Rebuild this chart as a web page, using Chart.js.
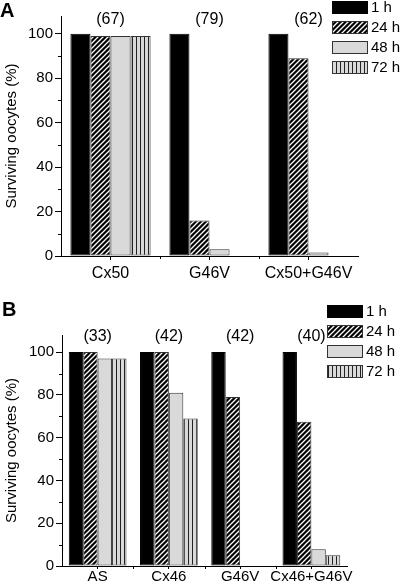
<!DOCTYPE html>
<html>
<head>
<meta charset="utf-8">
<script src="https://cdn.jsdelivr.net/npm/chart.js@4/dist/chart.umd.min.js"></script>
<style>
  body { margin: 0; background: #fff; }
  .panel { position: absolute; left: 0; width: 404px; }
  #panelA { top: 0; height: 290px; }
  #panelB { top: 290px; height: 296px; }
</style>
</head>
<body>
<div class="panel" id="panelA"><canvas id="chartA" width="404" height="290"></canvas></div>
<div class="panel" id="panelB"><canvas id="chartB" width="404" height="296"></canvas></div>
<script>
// values (% surviving oocytes)
const seriesLabels = ['1 h', '24 h', '48 h', '72 h'];
const yTicks = [0, 20, 40, 60, 80, 100];

const groupsA = ['Cx50', 'G46V', 'Cx50+G46V'];
const countsA = ['(67)', '(79)', '(62)'];
const h1A = [100, 100, 100];
const h24A = [99, 16, 89];
const h48A = [99, 3, 1.6];
const h72A = [99, 0, 0];

const groupsB = ['AS', 'Cx46', 'G46V', 'Cx46+G46V'];
const countsB = ['(33)', '(42)', '(42)', '(40)'];
const h1B = [100, 100, 100, 100];
const h24B = [100, 100, 79, 67.5];
const h48B = [97, 81, 0, 7.8];
const h72B = [97, 69, 0, 5];

const FONT = '"Liberation Sans", Arial, sans-serif';
Chart.defaults.font.family = FONT;
Chart.defaults.color = '#000';

function makePattern(kind) {
  const c = document.createElement('canvas');
  const ctx = c.getContext('2d');
  if (kind === 'hatch') {
    c.width = 5; c.height = 5;
    ctx.fillStyle = '#000';
    ctx.fillRect(0, 0, 5, 5);
    ctx.strokeStyle = '#fff';
    ctx.lineWidth = 1.3;
    ctx.beginPath();
    ctx.moveTo(-1, 6); ctx.lineTo(6, -1);
    ctx.moveTo(-1, 1); ctx.lineTo(1, -1);
    ctx.moveTo(4, 6); ctx.lineTo(6, 4);
    ctx.stroke();
  } else {
    c.width = 4; c.height = 4;
    ctx.fillStyle = '#d9d9d9';
    ctx.fillRect(0, 0, 4, 4);
    ctx.fillStyle = '#222';
    ctx.fillRect(0, 0, 1, 4);
  }
  return ctx.createPattern(c, 'repeat');
}

const fills = ['#000', makePattern('hatch'), '#d9d9d9', makePattern('vlines')];
const borders = ['#000', '#333', '#333', '#333'];

// minor ticks, group counts, legend and panel letter
const extrasPlugin = {
  id: 'extras',
  afterDraw(chart, args, opts) {
    const ctx = chart.ctx;
    const x = chart.scales.x;
    const y = chart.scales.y;
    const area = chart.chartArea;
    ctx.save();
    ctx.strokeStyle = '#000';
    ctx.lineWidth = 1;
    ctx.beginPath();
    for (let v = 10; v < 108; v += 20) {
      const py = Math.round(y.getPixelForValue(v)) + 0.5;
      ctx.moveTo(area.left - 3, py);
      ctx.lineTo(area.left, py);
    }
    for (let i = 0; i < opts.counts.length - 1; i++) {
      const px = Math.round((x.getPixelForValue(i) + x.getPixelForValue(i + 1)) / 2) + 0.5;
      ctx.moveTo(px, area.bottom);
      ctx.lineTo(px, area.bottom + 3);
    }
    ctx.stroke();

    ctx.fillStyle = '#000';
    ctx.font = '16px ' + FONT;
    ctx.textAlign = 'center';
    ctx.textBaseline = 'middle';
    opts.counts.forEach((t, i) => {
      ctx.fillText(t, x.getPixelForValue(i), area.top + opts.countDy);
    });

    ctx.font = '15px ' + FONT;
    ctx.textAlign = 'left';
    chart.data.datasets.forEach((ds, i) => {
      const by = opts.legendY + i * 20;
      ctx.fillStyle = ds.backgroundColor;
      ctx.fillRect(opts.legendX, by, 36, 13);
      ctx.strokeStyle = ds.borderColor;
      ctx.strokeRect(opts.legendX + 0.5, by + 0.5, 35, 12);
      ctx.fillStyle = '#000';
      ctx.fillText(ds.label, opts.legendX + 39, by + 7);
    });

    ctx.font = 'bold 20px ' + FONT;
    ctx.textBaseline = 'top';
    ctx.fillText(opts.letter, opts.letterX, opts.letterY);
    ctx.restore();
  }
};

function buildChart(canvasId, groups, values, opts) {
  const datasets = seriesLabels.map((label, i) => ({
    label: label,
    data: values[i],
    backgroundColor: fills[i],
    borderColor: borders[i],
    borderWidth: 1,
    borderSkipped: false,
    categoryPercentage: 0.81,
    barPercentage: 1.0
  }));

  return new Chart(document.getElementById(canvasId), {
    type: 'bar',
    data: { labels: groups, datasets: datasets },
    options: {
      responsive: false,
      animation: false,
      layout: { padding: { top: opts.top, right: opts.right, left: 0, bottom: 0 } },
      plugins: {
        legend: { display: false },
        tooltip: { enabled: false },
        extras: opts.extras
      },
      scales: {
        x: {
          grid: { offset: false, drawOnChartArea: false, tickLength: opts.xTick, color: '#000' },
          border: { color: '#000', width: 1 },
          ticks: { font: { size: opts.xFont }, padding: opts.xPad, maxRotation: 0, autoSkip: false },
          afterFit: (s) => { s.height = opts.xHeight; }
        },
        y: {
          min: 0,
          max: 108,
          afterBuildTicks: (s) => { s.ticks = yTicks.map(v => ({ value: v })); },
          grid: { drawOnChartArea: false, tickLength: 6, color: '#000' },
          border: { color: '#000', width: 1 },
          ticks: { font: { size: 15 }, padding: 2 },
          title: {
            display: true,
            text: 'Surviving oocytes (%)',
            font: { size: 15 },
            padding: { top: 3, bottom: 0 }
          },
          afterFit: (s) => { s.width = opts.yWidth; }
        }
      }
    },
    plugins: [extrasPlugin]
  });
}

buildChart('chartA', groupsA, [h1A, h24A, h48A, h72A], {
  top: 16, right: 46, yWidth: 61, xHeight: 34, xTick: 4, xPad: 4, xFont: 16,
  extras: { counts: countsA, countDy: 4, legendX: 332, legendY: 1, letter: 'A', letterX: 0, letterY: 1 }
});

buildChart('chartB', groupsB, [h1B, h24B, h48B, h72B], {
  top: 45, right: 57, yWidth: 62, xHeight: 20, xTick: 3, xPad: -1, xFont: 15,
  extras: { counts: countsB, countDy: 2, legendX: 327, legendY: 15, letter: 'B', letterX: 2, letterY: 10 }
});
</script>
</body>
</html>
